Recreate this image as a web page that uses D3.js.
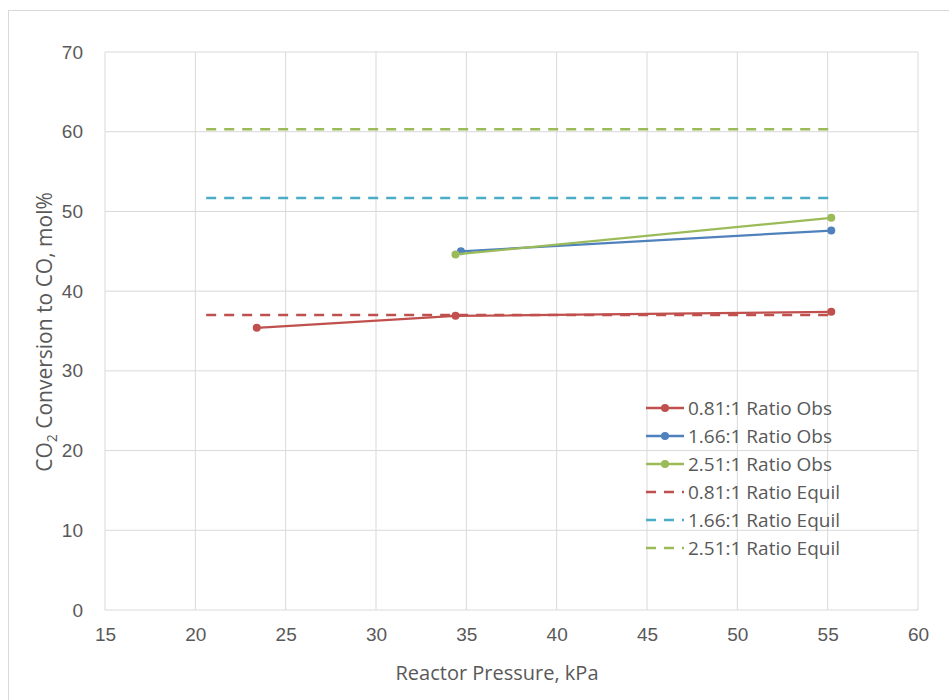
<!DOCTYPE html>
<html>
<head>
<meta charset="utf-8">
<script src="https://cdn.jsdelivr.net/npm/d3@7"></script>
<style>
  body { margin: 0; background: #fff; }
  svg { font-family: "Open Sans", "Noto Sans", sans-serif; }
</style>
</head>
<body>
<div id="chart"></div>
<script>
// observed series: [pressure kPa, conversion mol%]
var obs081 = [[23.4, 35.4], [34.4, 36.9], [55.2, 37.4]];
var obs166 = [[34.7, 45.0], [55.2, 47.6]];
var obs251 = [[34.4, 44.6], [55.2, 49.2]];
// equilibrium lines
var equil081 = [[20.6, 37.0], [55.2, 37.0]];
var equil166 = [[20.6, 51.7], [55.2, 51.7]];
var equil251 = [[20.6, 60.3], [55.2, 60.3]];

var xTicks = [15, 20, 25, 30, 35, 40, 45, 50, 55, 60];
var yTicks = [0, 10, 20, 30, 40, 50, 60, 70];

var series = [
    {name: "0.81:1 Ratio Obs", data: obs081, color: "#c0504d", dashed: false},
    {name: "1.66:1 Ratio Obs", data: obs166, color: "#4f81bd", dashed: false},
    {name: "2.51:1 Ratio Obs", data: obs251, color: "#9bbb59", dashed: false},
    {name: "0.81:1 Ratio Equil", data: equil081, color: "#c0504d", dashed: true},
    {name: "1.66:1 Ratio Equil", data: equil166, color: "#4bacc6", dashed: true},
    {name: "2.51:1 Ratio Equil", data: equil251, color: "#9bbb59", dashed: true}
];

var margin = {top: 52, right: 31, bottom: 90, left: 105},
    width = 949 - margin.left - margin.right,
    height = 700 - margin.top - margin.bottom;

var svg = d3.select("#chart")
    .append("svg")
    .attr("width", 949)
    .attr("height", 700);

svg.append("rect")
    .attr("x", 8.5).attr("y", 10.5)
    .attr("width", 960).attr("height", 720)
    .attr("fill", "none")
    .attr("stroke", "#d9d9d9");

var g = svg.append("g")
    .attr("transform", "translate(" + margin.left + "," + margin.top + ")");

var x = d3.scaleLinear().domain([15, 60]).range([0, width]);
var y = d3.scaleLinear().domain([0, 70]).range([height, 0]);

// gridlines
g.append("g")
    .selectAll("line.v")
    .data(xTicks)
    .enter().append("line")
    .attr("x1", function(d) { return x(d); })
    .attr("x2", function(d) { return x(d); })
    .attr("y1", 0).attr("y2", height)
    .attr("stroke", "#d9d9d9");

g.append("g")
    .selectAll("line.h")
    .data(yTicks)
    .enter().append("line")
    .attr("x1", 0).attr("x2", width)
    .attr("y1", function(d) { return y(d); })
    .attr("y2", function(d) { return y(d); })
    .attr("stroke", "#d9d9d9");

// axes (labels only)
var xAxis = g.append("g")
    .attr("transform", "translate(0," + height + ")")
    .call(d3.axisBottom(x).tickValues(xTicks).tickSize(0).tickPadding(18));
var yAxis = g.append("g")
    .call(d3.axisLeft(y).tickValues(yTicks).tickSize(0).tickPadding(22));

[xAxis, yAxis].forEach(function(a) {
    a.select(".domain").remove();
    a.selectAll("text")
        .attr("fill", "#595959")
        .style("font-size", "19px");
});

// lines
var line = d3.line()
    .x(function(d) { return x(d[0]); })
    .y(function(d) { return y(d[1]); });

series.forEach(function(s) {
    g.append("path")
        .datum(s.data)
        .attr("d", line)
        .attr("fill", "none")
        .attr("stroke", s.color)
        .attr("stroke-width", s.dashed ? 2.5 : 2.25)
        .attr("stroke-dasharray", s.dashed ? "10,8" : null);
    if (!s.dashed) {
        g.selectAll(null)
            .data(s.data)
            .enter().append("circle")
            .attr("cx", function(d) { return x(d[0]); })
            .attr("cy", function(d) { return y(d[1]); })
            .attr("r", 4)
            .attr("fill", s.color);
    }
});

// legend
var legend = svg.append("g")
    .attr("transform", "translate(646,408)");

var item = legend.selectAll("g")
    .data(series)
    .enter().append("g")
    .attr("transform", function(d, i) { return "translate(0," + (i * 28) + ")"; });

item.append("line")
    .attr("x1", 0).attr("x2", 38)
    .attr("y1", 0).attr("y2", 0)
    .attr("stroke", function(d) { return d.color; })
    .attr("stroke-width", 2.5)
    .attr("stroke-dasharray", function(d) { return d.dashed ? "10,8" : null; });

item.filter(function(d) { return !d.dashed; })
    .append("circle")
    .attr("cx", 19).attr("cy", 0).attr("r", 4)
    .attr("fill", function(d) { return d.color; });

item.append("text")
    .attr("x", 42).attr("y", 0)
    .attr("dy", "0.35em")
    .attr("fill", "#595959")
    .style("font-size", "19px")
    .text(function(d) { return d.name; });

// axis titles
svg.append("text")
    .attr("x", 497)
    .attr("y", 680)
    .attr("text-anchor", "middle")
    .attr("fill", "#595959")
    .style("font-size", "20px")
    .text("Reactor Pressure, kPa");

var yt = svg.append("text")
    .attr("transform", "translate(52,332) rotate(-90)")
    .attr("text-anchor", "middle")
    .attr("fill", "#595959")
    .style("font-size", "21px");
yt.append("tspan").text("CO");
yt.append("tspan").attr("dy", "5").style("font-size", "14px").text("2");
yt.append("tspan").attr("dy", "-5").text(" Conversion to CO, mol%");
</script>
</body>
</html>
